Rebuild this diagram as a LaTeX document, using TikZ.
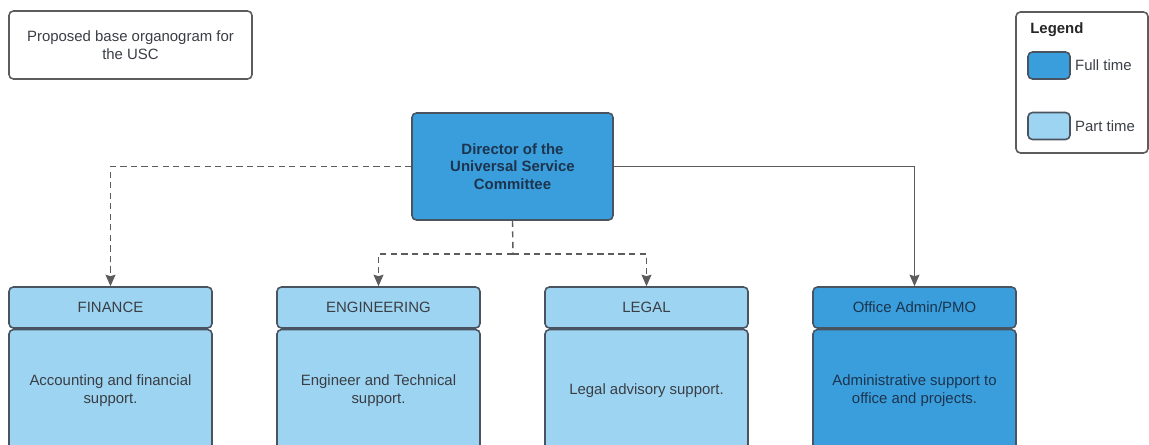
\documentclass[tikz,border=0pt]{standalone}
\usepackage{fontspec}
\setmainfont{Liberation Sans}
\usepackage{tikz}
\usetikzlibrary{arrows.meta, positioning}

\definecolor{fullblue}{RGB}{58,158,220}
\definecolor{partblue}{RGB}{157,212,242}
\definecolor{edgegrey}{RGB}{74,84,96}
\definecolor{linegrey}{RGB}{92,92,92}
\definecolor{darktext}{RGB}{28,52,78}
\definecolor{lighttext}{RGB}{58,62,68}

\tikzset{
  every node/.style={font=\fontsize{8.5}{10}\selectfont},
  box/.style={draw=edgegrey, line width=0.9pt, rounded corners=2.5pt, align=center},
  headbox/.style={box, minimum width=4.06cm, minimum height=0.82cm, inner sep=0pt},
  bodybox/.style={box, minimum width=4.06cm, minimum height=2.44cm, inner sep=0pt},
  swatch/.style={draw=edgegrey, line width=0.9pt, rounded corners=2.5pt, minimum width=0.84cm, minimum height=0.54cm, inner sep=0pt},
  link/.style={linegrey, line width=0.8pt},
  dlink/.style={link, dash pattern=on 3.5pt off 2.5pt},
  tip/.style={-{Stealth[length=2.3mm, width=2mm, inset=0.3mm]}}
}

\begin{document}
\begin{tikzpicture}

\clip (0,0) rectangle (22.98,-8.9);

% title and legend
\node[box, draw=linegrey, fill=white, minimum width=4.86cm, minimum height=1.36cm, text=lighttext] (title) at (2.61,-0.90) {Proposed base organogram for\\the USC};

\node[box, draw=linegrey, minimum width=2.64cm, minimum height=2.82cm] (legend) at (21.64,-1.65) {};
\node[anchor=west, inner sep=0pt, font=\fontsize{8.5}{10}\selectfont\bfseries, text=black!85] (legtitle) at (20.6,-0.6) {Legend};
\node[swatch, fill=fullblue] (legfull) at (20.98,-1.31) {};
\node[right=0.08cm of legfull, inner sep=0pt, text=lighttext] (legfulltxt) {Full time};
\node[swatch, fill=partblue] (legpart) at (20.98,-2.52) {};
\node[right=0.08cm of legpart, inner sep=0pt, text=lighttext] (legparttxt) {Part time};

% director
\node[box, fill=fullblue, minimum width=4.02cm, minimum height=2.14cm, font=\fontsize{8.5}{10}\selectfont\bfseries, text=darktext] (dir) at (10.25,-3.33) {Director of the\\Universal Service\\Committee};

% departments
\node[headbox, fill=partblue, text=lighttext] (finhead) at (2.21,-6.15) {FINANCE};
\node[bodybox, fill=partblue, text=lighttext, below=0pt of finhead] (finbody) {Accounting and financial\\support.};

\node[headbox, fill=partblue, text=lighttext] (enghead) at (7.57,-6.15) {ENGINEERING};
\node[bodybox, fill=partblue, text=lighttext, below=0pt of enghead] (engbody) {Engineer and Technical\\support.};

\node[headbox, fill=partblue, text=lighttext] (leghead) at (12.93,-6.15) {LEGAL};
\node[bodybox, fill=partblue, text=lighttext, below=0pt of leghead] (legbody) {Legal advisory support.};

\node[headbox, fill=fullblue, text=darktext] (offhead) at (18.29,-6.15) {Office Admin/PMO};
\node[bodybox, fill=fullblue, text=darktext, below=0pt of offhead] (offbody) {Administrative support to\\office and projects.};

% connectors
\coordinate (branch) at (10.26,-5.08);
\draw[dlink, tip] (dir.west) -| (finhead.north);
\draw[dlink] (dir.south) -- (branch);
\draw[dlink, tip] (branch) -| (enghead.north);
\draw[dlink, tip] (branch) -| (leghead.north);
\draw[link, tip] (dir.east) -| (offhead.north);

\end{tikzpicture}
\end{document}
